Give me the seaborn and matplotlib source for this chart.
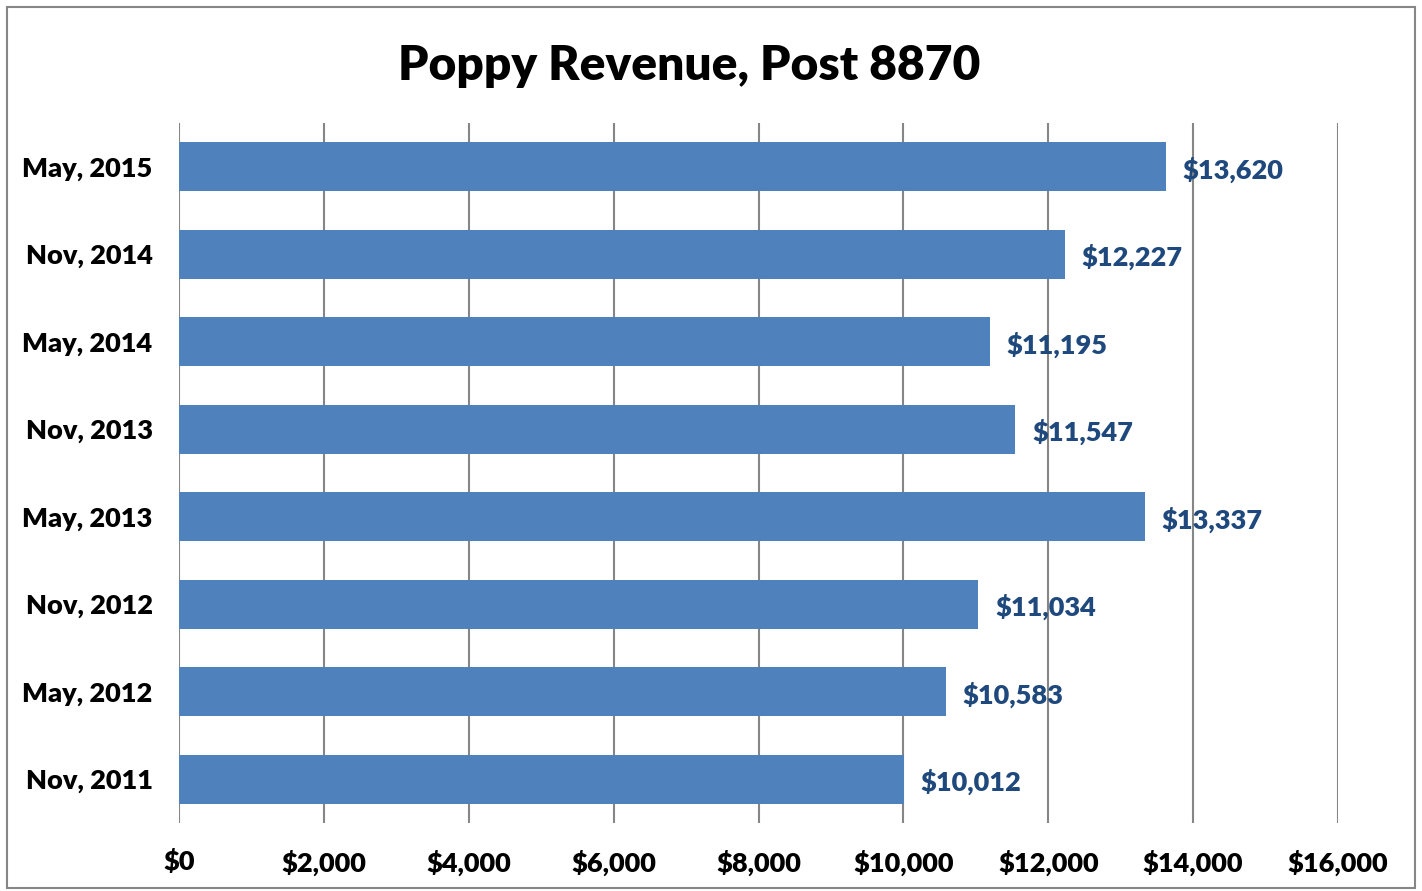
import pandas as pd
import matplotlib.pyplot as plt
import seaborn as sns
from matplotlib.patches import Rectangle
from matplotlib.ticker import FuncFormatter

sns.set_theme(style="white")
plt.rcParams['font.family'] = ['Lato', 'DejaVu Sans']

# Werte
perioden = ['May, 2015', 'Nov, 2014', 'May, 2014', 'Nov, 2013',
            'May, 2013', 'Nov, 2012', 'May, 2012', 'Nov, 2011']
umsatz = [13620, 12227, 11195, 11547, 13337, 11034, 10583, 10012]
x_ticks = [0, 2000, 4000, 6000, 8000, 10000, 12000, 14000, 16000]

df = pd.DataFrame({'Periode': perioden, 'Umsatz': umsatz})

fig = plt.figure(figsize=(14.22, 8.91), dpi=100)
ax = fig.add_axes([179 / 1422, 1 - 823 / 891, (1338 - 179) / 1422, (823 - 123) / 891])

sns.barplot(data=df, x='Umsatz', y='Periode', orient='h', color='#4F81BD',
            saturation=1, width=0.56, ax=ax, zorder=3, linewidth=0)

ax.set_xlim(0, 16000)
ax.set_ylim(7.5, -0.5)
ax.set_xticks(x_ticks)
ax.xaxis.set_major_formatter(FuncFormatter(lambda v, p: f"${v:,.0f}"))
ax.grid(axis='x', color='#868686', linewidth=1.5, zorder=0)
ax.grid(axis='y', visible=False)
for s in ax.spines.values():
    s.set_visible(False)

ax.set_xlabel('')
ax.set_ylabel('')
ax.tick_params(axis='x', length=0, pad=19, labelsize=19.5)
ax.tick_params(axis='y', length=0, pad=19, labelsize=19.5)
for lbl in ax.get_xticklabels() + ax.get_yticklabels():
    lbl.set_fontweight('heavy')
    lbl.set_color('black')

# Datenbeschriftungen rechts neben den Balken
for i, wert in enumerate(umsatz):
    ax.text(wert + 230, i + 0.03, f"${wert:,}", va='center', ha='left',
            fontsize=19.5, fontweight='heavy', color='#1F497D', zorder=4)

fig.text(689 / 1422, 1 - 66 / 891, 'Poppy Revenue, Post 8870', ha='center', va='center',
         fontsize=34.5, fontweight='heavy', color='black')

# Rahmen um das Diagramm
fig.patches.append(Rectangle((7 / 1422, 3 / 891), 1408 / 1422, 881 / 891,
                             transform=fig.transFigure, fill=False,
                             edgecolor='#868686', linewidth=1.5))

fig.savefig('out.png', dpi=100)
